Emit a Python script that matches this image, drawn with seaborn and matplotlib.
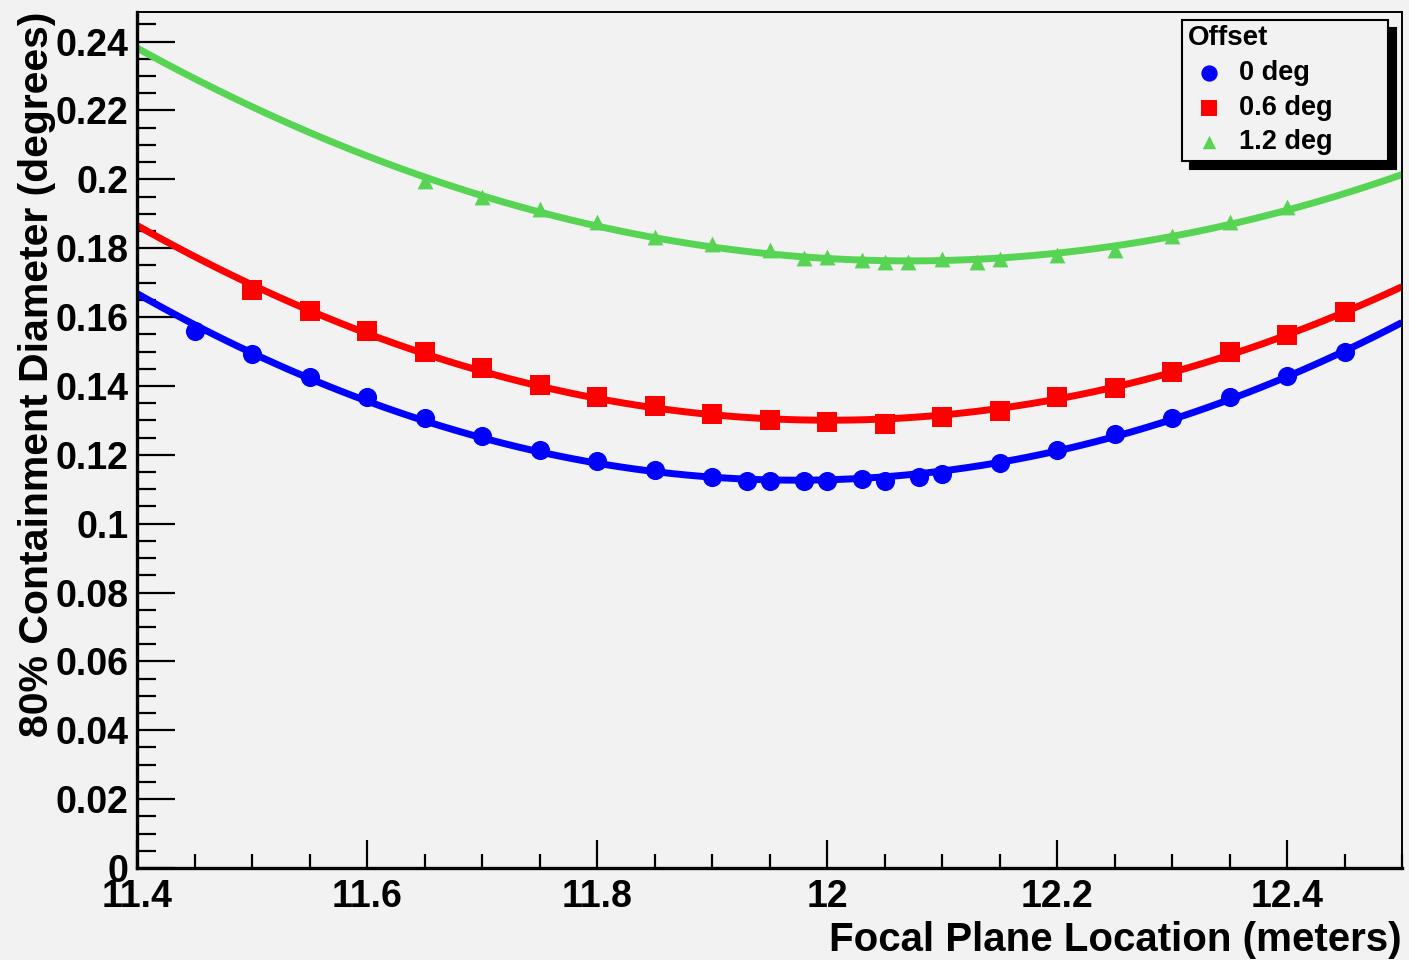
import numpy as np
import pandas as pd
import matplotlib
matplotlib.use("Agg")
import matplotlib.pyplot as plt
import seaborn as sns
from matplotlib.ticker import MultipleLocator

# ---- data ----
x_0deg = [11.45, 11.50, 11.55, 11.60, 11.65, 11.70, 11.75, 11.80, 11.85, 11.90,
          11.93, 11.95, 11.98, 12.00, 12.03, 12.05, 12.08, 12.10, 12.15, 12.20,
          12.25, 12.30, 12.35, 12.40, 12.45]
y_0deg = [0.1560, 0.1493, 0.1426, 0.1368, 0.1307, 0.1255, 0.1214, 0.1182, 0.1156, 0.1136,
          0.1124, 0.1124, 0.1124, 0.1124, 0.1130, 0.1124, 0.1136, 0.1145, 0.1177, 0.1214,
          0.1260, 0.1307, 0.1368, 0.1428, 0.1498]

x_06deg = [11.50, 11.55, 11.60, 11.65, 11.70, 11.75, 11.80, 11.85, 11.90, 11.95,
           12.00, 12.05, 12.10, 12.15, 12.20, 12.25, 12.30, 12.35, 12.40, 12.45]
y_06deg = [0.1678, 0.1617, 0.1560, 0.1500, 0.1452, 0.1403, 0.1368, 0.1342, 0.1319, 0.1301,
           0.1296, 0.1290, 0.1310, 0.1328, 0.1368, 0.1394, 0.1440, 0.1500, 0.1548, 0.1614]

x_12deg = [11.65, 11.70, 11.75, 11.80, 11.85, 11.90, 11.95, 11.98, 12.00, 12.03,
           12.05, 12.07, 12.10, 12.13, 12.15, 12.20, 12.25, 12.30, 12.35, 12.40]
y_12deg = [0.1994, 0.1948, 0.1913, 0.1875, 0.1832, 0.1812, 0.1794, 0.1771, 0.1774, 0.1765,
           0.1759, 0.1759, 0.1768, 0.1759, 0.1768, 0.1780, 0.1794, 0.1835, 0.1875, 0.1919]

series_labels = ["0 deg", "0.6 deg", "1.2 deg"]
legend_title = "Offset"
x_label = "Focal Plane Location (meters)"
y_label = "80% Containment Diameter (degrees)"

# ---- style ----
BG = "#f2f2f2"
sns.set_style("ticks")
plt.rcParams["font.family"] = ["Liberation Sans", "DejaVu Sans"]
plt.rcParams["font.weight"] = "bold"
plt.rcParams["text.color"] = "black"
plt.rcParams["axes.labelcolor"] = "black"
plt.rcParams["xtick.color"] = "black"
plt.rcParams["ytick.color"] = "black"

colors = {"0 deg": "#0000ff", "0.6 deg": "#ff0000", "1.2 deg": "#58d454"}
markers = {"0 deg": "o", "0.6 deg": "s", "1.2 deg": "^"}
msize = {"0 deg": 190, "0.6 deg": 200, "1.2 deg": 130}

fig = plt.figure(figsize=(14.09, 9.60), dpi=100, facecolor=BG)
ax = fig.add_axes([137 / 1409, 1 - 868 / 960, (1402 - 137) / 1409, (868 - 12) / 960])
ax.set_facecolor(BG)
ax.set_xlim(11.4, 12.5)
ax.set_ylim(0, 0.2486)

data = [(x_0deg, y_0deg), (x_06deg, y_06deg), (x_12deg, y_12deg)]
for lab, (xs, ys) in zip(series_labels, data):
    df = pd.DataFrame({"x": xs, "y": ys})
    sns.regplot(data=df, x="x", y="y", order=2, ci=None, truncate=False, scatter=False,
                color=colors[lab], line_kws={"linewidth": 5.0, "solid_capstyle": "butt"}, ax=ax)
    sns.scatterplot(data=df, x="x", y="y", color=colors[lab], marker=markers[lab],
                    s=msize[lab], linewidth=0, ax=ax, label=lab, zorder=3)

# ---- axes formatting ----
ax.xaxis.set_major_locator(MultipleLocator(0.2))
ax.xaxis.set_minor_locator(MultipleLocator(0.05))
ax.yaxis.set_major_locator(MultipleLocator(0.02))
ax.yaxis.set_minor_locator(MultipleLocator(0.005))
ax.xaxis.set_major_formatter(plt.FuncFormatter(lambda v, p: f"{v:g}"))
ax.yaxis.set_major_formatter(plt.FuncFormatter(lambda v, p: f"{round(v, 3):g}"))

ax.tick_params(axis="both", which="both", direction="in", top=False, right=False, width=1.6,
               color="black", labelcolor="black")
ax.tick_params(axis="y", which="major", length=27, pad=6, labelsize=27)
ax.tick_params(axis="y", which="minor", length=14)
ax.tick_params(axis="x", which="major", length=20, pad=8, labelsize=27)
ax.tick_params(axis="x", which="minor", length=10)
for lbl in ax.get_xticklabels() + ax.get_yticklabels():
    lbl.set_fontweight("bold")

for side in ["left", "bottom"]:
    ax.spines[side].set_linewidth(2.4)
for side in ["top", "right"]:
    ax.spines[side].set_linewidth(1.4)
for sp in ax.spines.values():
    sp.set_color("black")

ax.set_xlabel(x_label, fontsize=29, fontweight="bold", loc="right", labelpad=4, color="black")
ax.set_ylabel(y_label, fontsize=29.5, fontweight="bold", loc="top", labelpad=0, color="black")

# ---- legend ----
lx0, lx1, ly0, ly1 = 1182 / 1409, 1388 / 1409, 1 - 160 / 960, 1 - 20 / 960
leg = ax.legend(title=legend_title, loc="upper left", mode="expand",
                bbox_to_anchor=(lx0, ly0, lx1 - lx0, ly1 - ly0), bbox_transform=fig.transFigure,
                borderaxespad=0, frameon=True, fancybox=False, facecolor=BG, edgecolor="black",
                framealpha=1, fontsize=19.5, title_fontsize=20, alignment="left",
                handletextpad=0.3, labelspacing=0.32, borderpad=0.2, handlelength=1.6,
                markerscale=0.85,
                shadow={"color": "black", "alpha": 1, "ox": 6, "oy": -6})
leg.get_frame().set_linewidth(1.5)
leg.get_title().set_fontweight("bold")
for t in leg.get_texts():
    t.set_fontweight("bold")

fig.savefig("out.png", dpi=100, facecolor=BG)
